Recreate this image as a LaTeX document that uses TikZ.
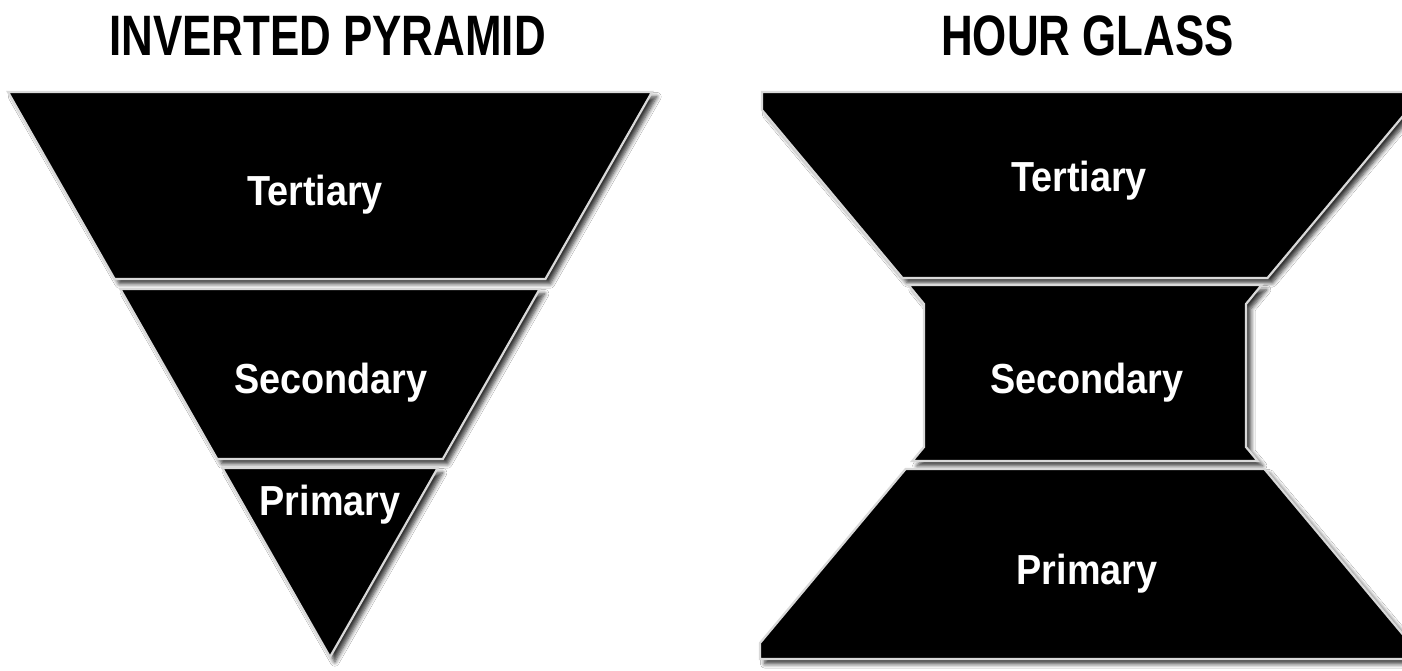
\documentclass[tikz,border=0pt]{standalone}
\usepackage{fontspec}
\setmainfont{Liberation Sans}
\usetikzlibrary{shadows.blur}

\begin{document}
\begin{tikzpicture}[x=0.5pt,y=-0.5pt,
  band/.style={fill=black, draw=gray!30, line width=1.1pt, line join=miter,
    blur shadow={shadow xshift=2.4pt, shadow yshift=-2.4pt,
      shadow blur radius=2.2pt, shadow blur steps=6, shadow opacity=80}},
  headtext/.style={font=\bfseries\fontsize{28.5}{30}\selectfont, text=black,
    anchor=base, inner sep=0pt},
  bandtext/.style={font=\bfseries\fontsize{21}{23}\selectfont, text=white,
    anchor=base, inner sep=0pt}]

% canvas
\fill[white] (0,0) rectangle (1402,670);
\useasboundingbox (0,0) rectangle (1402,670);

% headings
\node[headtext] (hpyr) at (327.5,55) {\scalebox{0.77}[1]{INVERTED PYRAMID}};
\node[headtext] (hglass) at (1087.5,55) {\scalebox{0.77}[1]{HOUR GLASS}};

% inverted pyramid bands
\path[band] (8,92) -- (652,92) -- (545.4,279) -- (114.6,279) -- cycle;
\path[band] (120.3,289) -- (539.7,289) -- (442.8,459) -- (217.2,459) -- cycle;
\path[band] (222.3,468) -- (437.7,468) -- (330,657) -- cycle;

% hour glass bands
\path[band] (762,92) -- (1408,92) -- (1408,110) -- (1267.5,278)
  -- (902.5,278) -- (762,110) -- cycle;
\path[band] (908.4,285) -- (1261.6,285) -- (1246,304) -- (1246,447)
  -- (1257.7,461) -- (912.3,461) -- (924,447) -- (924,304) -- cycle;
\path[band] (905.6,469) -- (1264.4,469) -- (1410,643) -- (1410,659)
  -- (760,659) -- (760,643) -- cycle;

% band labels
\node[bandtext] (lt) at (315,205) {\scalebox{0.9}[1]{Tertiary}};
\node[bandtext] (ls) at (331,393) {\scalebox{0.9}[1]{Secondary}};
\node[bandtext] (lp) at (330,515) {\scalebox{0.9}[1]{Primary}};
\node[bandtext] (rt) at (1079,191) {\scalebox{0.9}[1]{Tertiary}};
\node[bandtext] (rs) at (1087,393) {\scalebox{0.9}[1]{Secondary}};
\node[bandtext] (rp) at (1087,584) {\scalebox{0.9}[1]{Primary}};
\end{tikzpicture}
\end{document}
